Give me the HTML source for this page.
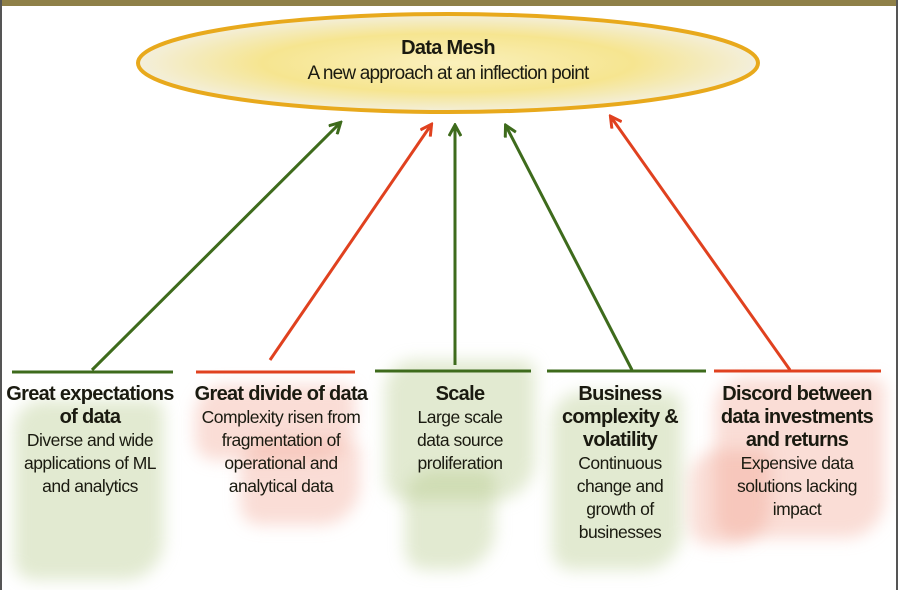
<!DOCTYPE html>
<html><head><meta charset="utf-8"><style>
body{margin:0;width:898px;height:590px;background:#fff;position:relative;overflow:hidden;font-family:"Liberation Sans",sans-serif;}
.bl{position:absolute;filter:blur(8px);border-radius:30px 12px 40px 20px;}
.g{background:rgba(180,200,135,0.38)}
.r{background:rgba(240,160,140,0.36)}
.col{position:absolute;text-align:center;color:#1a1a10;white-space:nowrap;}
.t{font-weight:bold;font-size:20px;line-height:23px;letter-spacing:-0.7px}
.s{font-size:17.5px;line-height:23px;letter-spacing:-0.5px}
</style></head><body>
<div style="position:absolute;left:0;top:0;width:898px;height:6px;background:#8f8048"></div>
<div style="position:absolute;left:0;top:0;width:2px;height:590px;background:#555"></div>
<div style="position:absolute;right:0;top:0;width:2px;height:590px;background:#555"></div>
<div class="bl g" style="left:14px;top:400px;width:150px;height:180px"></div>
<div class="bl r" style="left:195px;top:385px;width:160px;height:75px"></div>
<div class="bl r" style="left:240px;top:440px;width:120px;height:85px"></div>
<div class="bl g" style="left:385px;top:360px;width:150px;height:140px"></div>
<div class="bl g" style="left:405px;top:470px;width:90px;height:100px"></div>
<div class="bl g" style="left:552px;top:392px;width:130px;height:178px"></div>
<div class="bl r" style="left:715px;top:378px;width:170px;height:160px"></div>
<div class="bl r" style="left:690px;top:450px;width:80px;height:95px"></div>
<svg width="898" height="590" style="position:absolute;left:0;top:0">
<defs><radialGradient id="yg" cx="50%" cy="50%" r="50%"><stop offset="0" stop-color="#faf0bc"/><stop offset="0.6" stop-color="#f6e590"/><stop offset="1" stop-color="#f3efdc"/></radialGradient>
<marker id="ag" markerWidth="14" markerHeight="14" refX="11" refY="7" orient="auto" markerUnits="userSpaceOnUse"><path d="M1,1 L12,7 L1,13" fill="none" stroke="#3e6b1c" stroke-width="3"/></marker>
<marker id="ar" markerWidth="14" markerHeight="14" refX="11" refY="7" orient="auto" markerUnits="userSpaceOnUse"><path d="M1,1 L12,7 L1,13" fill="none" stroke="#e0411f" stroke-width="3"/></marker></defs>
<ellipse cx="448" cy="63" rx="310" ry="49" fill="url(#yg)" stroke="#e8a91c" stroke-width="4"/>
<g stroke-width="3" fill="none">
<line x1="92" y1="370" x2="340" y2="123" stroke="#3e6b1c" marker-end="url(#ag)"/>
<line x1="270" y1="360" x2="431" y2="125" stroke="#e0411f" marker-end="url(#ar)"/>
<line x1="455" y1="365" x2="455" y2="126" stroke="#3e6b1c" marker-end="url(#ag)"/>
<line x1="632" y1="370" x2="506" y2="126" stroke="#3e6b1c" marker-end="url(#ag)"/>
<line x1="790" y1="370" x2="611" y2="117" stroke="#e0411f" marker-end="url(#ar)"/>
<line x1="12" y1="372" x2="173" y2="372" stroke="#3e6b1c"/>
<line x1="196" y1="372" x2="355" y2="372" stroke="#e0411f"/>
<line x1="375" y1="371" x2="531" y2="371" stroke="#3e6b1c"/>
<line x1="547" y1="371" x2="706" y2="371" stroke="#3e6b1c"/>
<line x1="714" y1="371" x2="881" y2="371" stroke="#e0411f"/>
</g></svg>
<div class="col" style="left:248px;top:35px;width:400px"><div class="t" style="font-size:20px;line-height:26px">Data Mesh</div><div class="s" style="font-size:19px;line-height:26px;letter-spacing:-0.8px">A new approach at an inflection point</div></div>
<div class="col" style="left:-10px;top:383px;width:200px"><div class="t">Great expectations<br>of data</div><div class="s">Diverse and wide<br>applications of ML<br>and analytics</div></div>
<div class="col" style="left:181px;top:383px;width:200px"><div class="t">Great divide of data</div><div class="s">Complexity risen from<br>fragmentation of<br>operational and<br>analytical data</div></div>
<div class="col" style="left:400px;top:383px;width:120px"><div class="t">Scale</div><div class="s">Large scale<br>data source<br>proliferation</div></div>
<div class="col" style="left:550px;top:383px;width:140px"><div class="t">Business<br>complexity &amp;<br>volatility</div><div class="s">Continuous<br>change and<br>growth of<br>businesses</div></div>
<div class="col" style="left:697px;top:383px;width:200px"><div class="t">Discord between<br>data investments<br>and returns</div><div class="s">Expensive data<br>solutions lacking<br>impact</div></div>
</body></html>
